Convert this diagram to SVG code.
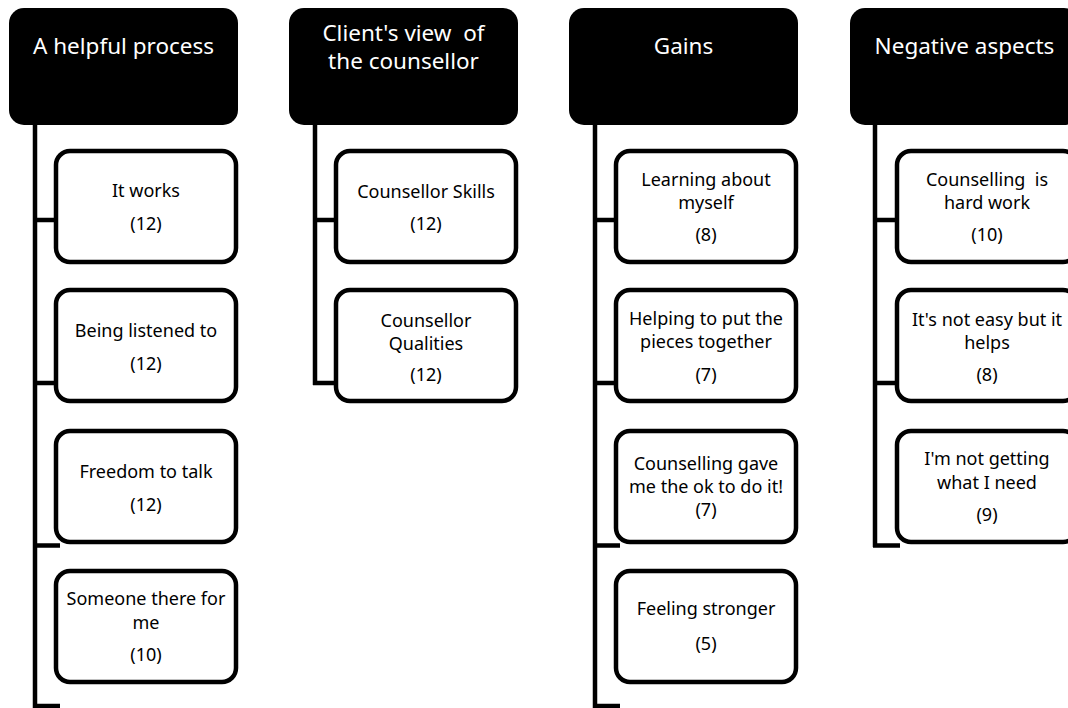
<svg xmlns="http://www.w3.org/2000/svg" width="1068" height="708" viewBox="0 0 1068 708">
<style>
.hdr{fill:#000;stroke:none}
.hdrt{fill:#fff;font-family:"Noto Sans","Open Sans",sans-serif;font-size:22.5px;text-anchor:middle;white-space:pre}
.box{fill:#fff;stroke:#000;stroke-width:4.5}
.boxt{fill:#000;font-family:"Noto Sans","Open Sans",sans-serif;font-size:18px;text-anchor:middle;white-space:pre}
.con{stroke:#000;stroke-width:4.5;fill:none}
</style>
<rect width="1068" height="708" fill="#fff"/>
<g id="connectors">
<path class="con" d="M35 120V708M33 220H60M33 383H60M33 545.5H60M33 706H60"/>
<path class="con" d="M315 120V385M313 220H340M313 383H340"/>
<path class="con" d="M595 120V708M593 220H620M593 383H620M593 545.5H620M593 706H620"/>
<path class="con" d="M875 120V547M873 220H900M873 383H900M873 545.5H900"/>
</g>
<g id="h1"><rect class="hdr" x="9" y="8" width="229" height="117" rx="15"/><text class="hdrt" x="123.5" y="54">A helpful process</text></g>
<g id="h2"><rect class="hdr" x="289" y="8" width="229" height="117" rx="15"/><text class="hdrt" x="403.5" y="41" xml:space="preserve">Client's view  of</text><text class="hdrt" x="403.5" y="69">the counsellor</text></g>
<g id="h3"><rect class="hdr" x="569" y="8" width="229" height="117" rx="15"/><text class="hdrt" x="683.5" y="54">Gains</text></g>
<g id="h4"><rect class="hdr" x="850" y="8" width="229" height="117" rx="15"/><text class="hdrt" x="964.5" y="54">Negative aspects</text></g>

<g id="c1a"><rect class="box" x="56" y="151" width="180" height="111" rx="14"/><text class="boxt" x="146" y="197">It works</text><text class="boxt" x="146" y="230">(12)</text></g>
<g id="c1b"><rect class="box" x="56" y="290" width="180" height="111" rx="14"/><text class="boxt" x="146" y="337">Being listened to</text><text class="boxt" x="146" y="370">(12)</text></g>
<g id="c1c"><rect class="box" x="56" y="431" width="180" height="111" rx="14"/><text class="boxt" x="146" y="478">Freedom to talk</text><text class="boxt" x="146" y="511">(12)</text></g>
<g id="c1d"><rect class="box" x="56" y="571" width="180" height="111" rx="14"/><text class="boxt" x="146" y="605">Someone there for</text><text class="boxt" x="146" y="629">me</text><text class="boxt" x="146" y="661">(10)</text></g>

<g id="c2a"><rect class="box" x="336" y="151" width="180" height="111" rx="14"/><text class="boxt" x="426" y="198">Counsellor Skills</text><text class="boxt" x="426" y="230">(12)</text></g>
<g id="c2b"><rect class="box" x="336" y="290" width="180" height="111" rx="14"/><text class="boxt" x="426" y="327">Counsellor</text><text class="boxt" x="426" y="350">Qualities</text><text class="boxt" x="426" y="381">(12)</text></g>

<g id="c3a"><rect class="box" x="616" y="151" width="180" height="111" rx="14"/><text class="boxt" x="706" y="186">Learning about</text><text class="boxt" x="706" y="209">myself</text><text class="boxt" x="706" y="241">(8)</text></g>
<g id="c3b"><rect class="box" x="616" y="290" width="180" height="111" rx="14"/><text class="boxt" x="706" y="325">Helping to put the</text><text class="boxt" x="706" y="348">pieces together</text><text class="boxt" x="706" y="381">(7)</text></g>
<g id="c3c"><rect class="box" x="616" y="431" width="180" height="111" rx="14"/><text class="boxt" x="706" y="470">Counselling gave</text><text class="boxt" x="706" y="493">me the ok to do it!</text><text class="boxt" x="706" y="516">(7)</text></g>
<g id="c3d"><rect class="box" x="616" y="571" width="180" height="111" rx="14"/><text class="boxt" x="706" y="615">Feeling stronger</text><text class="boxt" x="706" y="650">(5)</text></g>

<g id="c4a"><rect class="box" x="897" y="151" width="180" height="111" rx="14"/><text class="boxt" x="987" y="186" xml:space="preserve">Counselling  is</text><text class="boxt" x="987" y="209">hard work</text><text class="boxt" x="987" y="241">(10)</text></g>
<g id="c4b"><rect class="box" x="897" y="290" width="180" height="111" rx="14"/><text class="boxt" x="987" y="326">It's not easy but it</text><text class="boxt" x="987" y="349">helps</text><text class="boxt" x="987" y="381">(8)</text></g>
<g id="c4c"><rect class="box" x="897" y="431" width="180" height="111" rx="14"/><text class="boxt" x="987" y="465">I'm not getting</text><text class="boxt" x="987" y="489">what I need</text><text class="boxt" x="987" y="521">(9)</text></g>
</svg>
